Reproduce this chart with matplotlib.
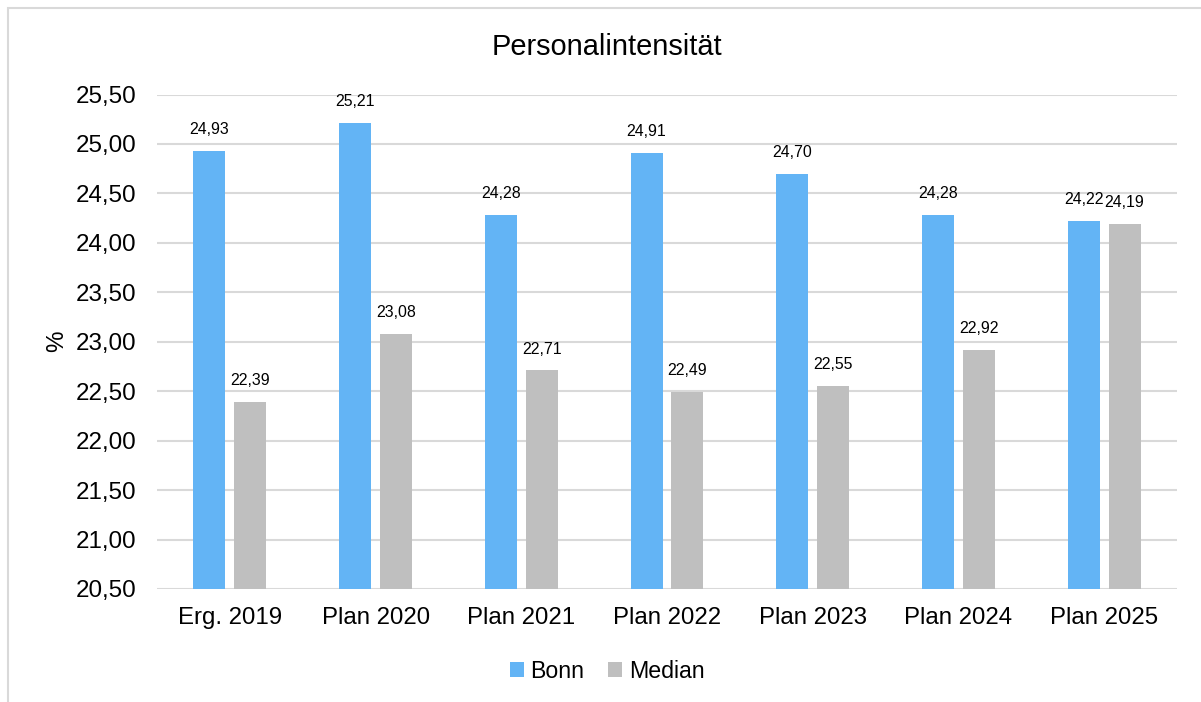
import numpy as np
import matplotlib.pyplot as plt
from matplotlib.patches import Rectangle
from matplotlib.ticker import FuncFormatter

plt.rcParams['font.family'] = ['Liberation Sans', 'DejaVu Sans']

categories = ['Erg. 2019', 'Plan 2020', 'Plan 2021', 'Plan 2022',
              'Plan 2023', 'Plan 2024', 'Plan 2025']
bonn = [24.93, 25.21, 24.28, 24.91, 24.70, 24.28, 24.22]
median = [22.39, 23.08, 22.71, 22.49, 22.55, 22.92, 24.19]

c_bonn = '#63b4f5'
c_median = '#bfbfbf'
grid_c = '#d9d9d9'

def de(v, _=None):
    return f'{v:.2f}'.replace('.', ',')

fig = plt.figure(figsize=(12.01, 7.02), dpi=100)
ax = fig.add_axes([157 / 1201, 1 - 589 / 702, 1020 / 1201, 494.5 / 702])

# thin frame around the chart
fig.patches.append(Rectangle((8 / 1201, -0.05), 1.1, 1 - 8 / 702 + 0.05,
                             transform=fig.transFigure, fill=False,
                             edgecolor=grid_c, linewidth=1.5))

x = np.arange(len(categories))
w = 0.22
off = 0.14
b1 = ax.bar(x - off, bonn, w, color=c_bonn, label='Bonn', zorder=3)
b2 = ax.bar(x + off, median, w, color=c_median, label='Median', zorder=3)

for bars, vals in ((b1, bonn), (b2, median)):
    for r, v in zip(bars, vals):
        ax.annotate(de(v), (r.get_x() + r.get_width() / 2, v),
                    xytext=(0, 10), textcoords='offset points',
                    ha='center', va='bottom', fontsize=11.4)

ax.set_ylim(20.5, 25.5)
ax.set_xlim(-0.5, len(categories) - 0.5)
ax.set_yticks(np.arange(20.5, 25.51, 0.5))
ax.yaxis.set_major_formatter(FuncFormatter(de))
ax.set_xticks(x)
ax.set_xticklabels(categories)
ax.tick_params(axis='y', length=0, pad=15, labelsize=17.4)
ax.tick_params(axis='x', length=0, pad=13, labelsize=17.3)
ax.grid(axis='y', color=grid_c, linewidth=1.5, zorder=0)
ax.set_axisbelow(True)
for s in ax.spines.values():
    s.set_visible(False)

ax.set_ylabel('%', fontsize=17.4, labelpad=5)
fig.text(607 / 1201, 1 - 47 / 702, 'Personalintensität', ha='center',
         va='center', fontsize=20.9)

fig.legend(handles=[b1, b2], loc='center', bbox_to_anchor=(607 / 1201, 1 - 671 / 702),
           ncol=2, frameon=False, fontsize=16.7, handlelength=0.6, handleheight=0.6,
           handletextpad=0.3, columnspacing=1.0)

fig.savefig('out.png', dpi=100)
